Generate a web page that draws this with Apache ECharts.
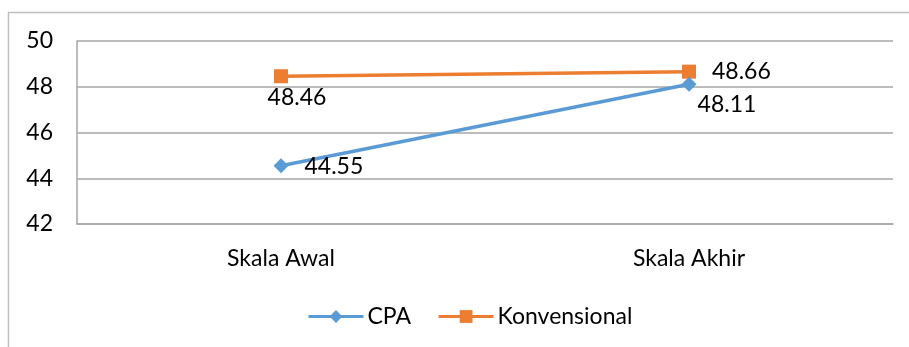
<!DOCTYPE html>
<html>
<head>
<meta charset="utf-8">
<script src="https://cdn.jsdelivr.net/npm/echarts@6/dist/echarts.min.js"></script>
<style>
  html, body { margin: 0; padding: 0; background: #fff; }
  #chart { width: 909px; height: 347px; }
</style>
</head>
<body>
<div id="chart"></div>
<script>
const categories = ['Skala Awal', 'Skala Akhir'];
const cpaValues = [44.55, 48.11];
const konvensionalValues = [48.46, 48.66];
const yTicks = { min: 42, max: 50, interval: 2 };

const FONT = 'Lato, "Open Sans", sans-serif';
const labelText = { fontFamily: FONT, fontSize: 23, color: '#000' };

const chart = echarts.init(document.getElementById('chart'));

// per-point label placement, roughly where Excel put them
const cpaLabels = [
  { position: 'right', distance: 16, offset: [0, 1] },
  { position: 'bottom', distance: 1, offset: [38, 0] },
];
const konvLabels = [
  { position: 'bottom', distance: 3, offset: [16, 0] },
  { position: 'right', distance: 16, offset: [0, 0] },
];

function points(values, labels) {
  return values.map((v, i) => ({
    value: v,
    label: Object.assign({ show: true, formatter: (p) => p.value.toFixed(2) }, labelText, labels[i]),
  }));
}

chart.setOption({
  animation: false,
  backgroundColor: '#fff',
  graphic: [{
    type: 'polyline',
    shape: { points: [[8.5, 347], [8.5, 12.5], [909, 12.5]] },
    style: { stroke: '#bfbfbf', lineWidth: 1.5, fill: null },
    silent: true,
  }],
  grid: { left: 77, right: 16, top: 41, bottom: 123 },
  legend: {
    bottom: 14,
    left: 302,
    itemWidth: 55,
    itemHeight: 16,
    itemGap: 26,
    lineStyle: { width: 3 },
    textStyle: { fontFamily: FONT, fontSize: 23, color: '#000', padding: [0, 0, 0, -1] },
    data: ['CPA', 'Konvensional'],
  },
  xAxis: {
    type: 'category',
    data: categories,
    boundaryGap: true,
    axisLine: { show: true, lineStyle: { color: '#a6a6a6', width: 1.5 } },
    axisTick: { show: false },
    axisLabel: { fontFamily: FONT, fontSize: 23, color: '#000', margin: 23 },
  },
  yAxis: {
    type: 'value',
    min: yTicks.min,
    max: yTicks.max,
    interval: yTicks.interval,
    axisLine: { show: true, lineStyle: { color: '#a6a6a6', width: 1.5 } },
    axisTick: { show: false },
    axisLabel: { fontFamily: FONT, fontSize: 23, color: '#000', margin: 24 },
    splitLine: { lineStyle: { color: '#a6a6a6', width: 1.5 } },
  },
  series: [
    {
      name: 'CPA',
      type: 'line',
      data: points(cpaValues, cpaLabels),
      symbol: 'diamond',
      symbolSize: 15,
      itemStyle: { color: '#5b9bd5' },
      lineStyle: { color: '#5b9bd5', width: 3.5 },
      z: 3,
    },
    {
      name: 'Konvensional',
      type: 'line',
      data: points(konvensionalValues, konvLabels),
      symbol: 'rect',
      symbolSize: 14,
      itemStyle: { color: '#ed7d31' },
      lineStyle: { color: '#ed7d31', width: 3.5 },
      z: 2,
    },
  ],
});
</script>
</body>
</html>
